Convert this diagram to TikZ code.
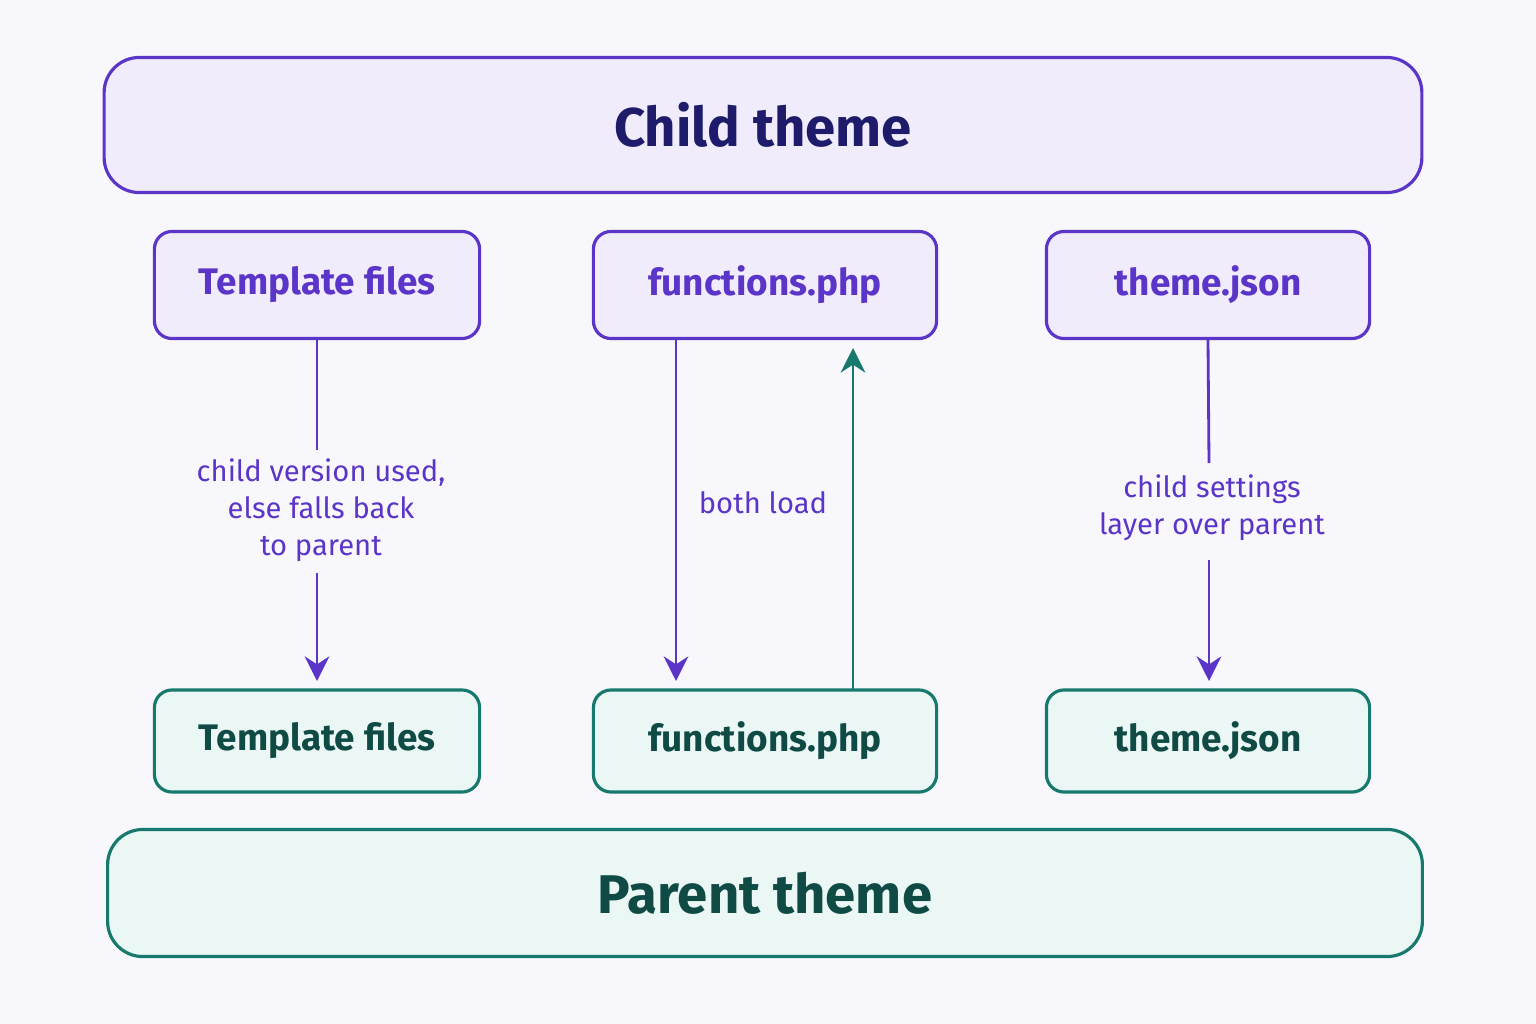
\documentclass[tikz,border=0pt]{standalone}
\usepackage{fontspec}
\setmainfont{Fira Sans}
\usetikzlibrary{arrows.meta}
\definecolor{bgc}{HTML}{F8F8FC}
\definecolor{pur}{HTML}{5B35C8}
\definecolor{purfill}{HTML}{F1ECFB}
\definecolor{tea}{HTML}{17796D}
\definecolor{teafill}{HTML}{EAF7F4}
\definecolor{navy}{HTML}{1E1B6B}
\definecolor{darkteal}{HTML}{0F4A45}
\tikzset{
  child/.style={draw=pur,fill=purfill,line width=0.9pt,rounded corners=5pt,text=pur,font=\fontsize{10.5}{13}\selectfont\bfseries},
  parent/.style={draw=tea,fill=teafill,line width=0.9pt,rounded corners=5pt,text=darkteal,font=\fontsize{10.5}{13}\selectfont\bfseries},
  big/.style={rounded corners=10pt,font=\fontsize{15.5}{18}\selectfont\bfseries},
  note/.style={text=pur,align=center,font=\fontsize{8.3}{10.5}\selectfont,inner sep=4pt},
  parr/.style={draw=pur,line width=0.8pt,-{Stealth[length=7pt,width=7pt]}},
  tarr/.style={draw=tea,line width=0.8pt,-{Stealth[length=7pt,width=7pt]}}
}
\begin{document}
\begin{tikzpicture}[x=0.01cm,y=-0.01cm]
\fill[bgc] (0,0) rectangle (1536,1024);
\useasboundingbox (0,0) rectangle (1536,1024);
% theme boxes
\node[child,big,minimum width=13.17cm,minimum height=1.35cm,text=navy] (ct) at (763,125) {Child theme};
\node[parent,big,minimum width=13.14cm,minimum height=1.27cm] (pt) at (765,893) {Parent theme};
% child files
\node[child,minimum width=3.25cm,minimum height=1.07cm] (ctf) at (317,285) {Template files};
\node[child,minimum width=3.43cm,minimum height=1.07cm] (cfn) at (765,285) {functions.php};
\node[child,minimum width=3.23cm,minimum height=1.07cm] (cjs) at (1208,285) {theme.json};
% parent files
\node[parent,minimum width=3.25cm,minimum height=1.02cm] (ptf) at (317,741) {Template files};
\node[parent,minimum width=3.43cm,minimum height=1.02cm] (pfn) at (765,741) {functions.php};
\node[parent,minimum width=3.23cm,minimum height=1.02cm] (pjs) at (1208,741) {theme.json};
% labels
\node[note] (l1) at (321,510) {child version used,\\else falls back\\to parent};
\node[note] (l2) at (763,503) {both load};
\node[note] (l3) at (1212,508) {child settings\\layer over parent};
% connectors
\draw[pur,line width=0.8pt] (ctf.south) -- (317,450);
\draw[parr] (317,573) -- (317,681);
\draw[parr] (676,339) -- (676,681);
\draw[tarr] (853,690) -- (853,348);
\draw[pur,line width=0.8pt] (cjs.south) -- (1209,463);
\draw[parr] (1209,560) -- (1209,681);
\end{tikzpicture}
\end{document}
